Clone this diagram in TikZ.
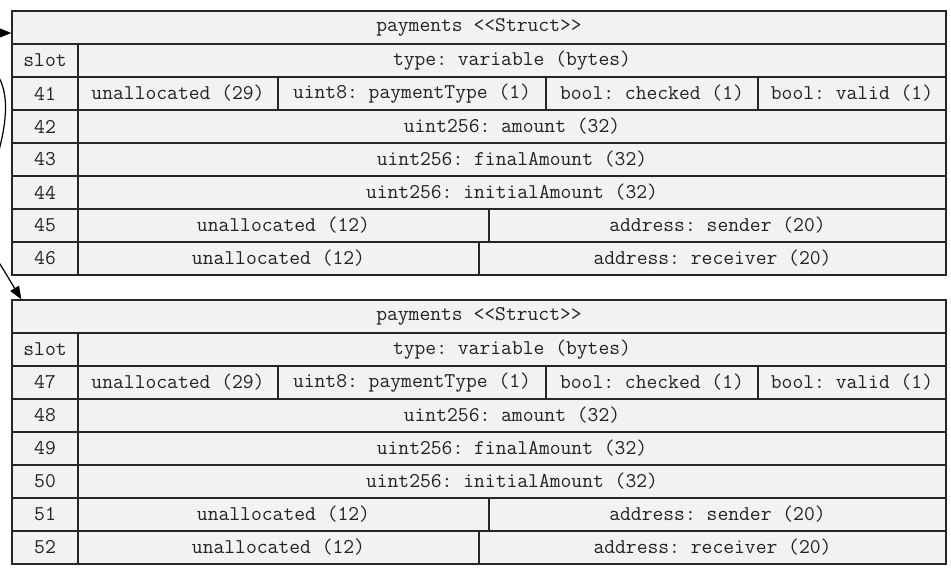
\documentclass[tikz,border=0pt]{standalone}
\usepackage{fontspec}
\usetikzlibrary{arrows.meta}
\definecolor{cellfill}{HTML}{F2F2F2}
\definecolor{cellline}{HTML}{262626}
\definecolor{celltext}{HTML}{222222}
\tikzset{
  cell/.style={draw=cellline, fill=cellfill, line width=1.2pt, inner sep=0pt,
    minimum height=33pt, text=celltext,
    font=\ttfamily\frenchspacing\fontsize{21pt}{22pt}\selectfont},
  edge/.style={line width=1.2pt, draw=black,
    -{Triangle[length=13pt,width=10pt]}},
  plain/.style={line width=1.2pt, draw=black}
}
\begin{document}
\frenchspacing
\begin{tikzpicture}[x=1pt,y=-1pt]
\useasboundingbox (0,0) rectangle (951,571);
\clip (0,0) rectangle (951,571);

% upper struct, slots 41-46
\node[cell, minimum width=934pt] (t1h) at (479,27.5) {payments <<Struct>>};
\node[cell, minimum width=66pt] (t1s) at (45,60.5) {slot};
\node[cell, minimum width=868pt] (t1t) at (512,60.5) {type: variable (bytes)};
\node[cell, minimum width=66pt] (t1s41) at (45,93.5) {41};
\node[cell, minimum width=200pt] (t1a41) at (178,93.5) {unallocated (29)};
\node[cell, minimum width=268pt] (t1b41) at (412,93.5) {uint8: paymentType (1)};
\node[cell, minimum width=212pt] (t1c41) at (652,93.5) {bool: checked (1)};
\node[cell, minimum width=188pt] (t1d41) at (852,93.5) {bool: valid (1)};
\node[cell, minimum width=66pt] (t1s42) at (45,126.5) {42};
\node[cell, minimum width=868pt] (t1a42) at (512,126.5) {uint256: amount (32)};
\node[cell, minimum width=66pt] (t1s43) at (45,159.5) {43};
\node[cell, minimum width=868pt] (t1a43) at (512,159.5) {uint256: finalAmount (32)};
\node[cell, minimum width=66pt] (t1s44) at (45,192.5) {44};
\node[cell, minimum width=868pt] (t1a44) at (512,192.5) {uint256: initialAmount (32)};
\node[cell, minimum width=66pt] (t1s45) at (45,225.5) {45};
\node[cell, minimum width=411pt] (t1a45) at (283.5,225.5) {unallocated (12)};
\node[cell, minimum width=457pt] (t1b45) at (717.5,225.5) {address: sender (20)};
\node[cell, minimum width=66pt] (t1s46) at (45,258.5) {46};
\node[cell, minimum width=401pt] (t1a46) at (278.5,258.5) {unallocated (12)};
\node[cell, minimum width=467pt] (t1b46) at (712.5,258.5) {address: receiver (20)};

% lower struct, slots 47-52
\node[cell, minimum width=934pt] (t2h) at (479,316.5) {payments <<Struct>>};
\node[cell, minimum width=66pt] (t2s) at (45,349.5) {slot};
\node[cell, minimum width=868pt] (t2t) at (512,349.5) {type: variable (bytes)};
\node[cell, minimum width=66pt] (t2s47) at (45,382.5) {47};
\node[cell, minimum width=200pt] (t2a47) at (178,382.5) {unallocated (29)};
\node[cell, minimum width=268pt] (t2b47) at (412,382.5) {uint8: paymentType (1)};
\node[cell, minimum width=212pt] (t2c47) at (652,382.5) {bool: checked (1)};
\node[cell, minimum width=188pt] (t2d47) at (852,382.5) {bool: valid (1)};
\node[cell, minimum width=66pt] (t2s48) at (45,415.5) {48};
\node[cell, minimum width=868pt] (t2a48) at (512,415.5) {uint256: amount (32)};
\node[cell, minimum width=66pt] (t2s49) at (45,448.5) {49};
\node[cell, minimum width=868pt] (t2a49) at (512,448.5) {uint256: finalAmount (32)};
\node[cell, minimum width=66pt] (t2s50) at (45,481.5) {50};
\node[cell, minimum width=868pt] (t2a50) at (512,481.5) {uint256: initialAmount (32)};
\node[cell, minimum width=66pt] (t2s51) at (45,514.5) {51};
\node[cell, minimum width=411pt] (t2a51) at (283.5,514.5) {unallocated (12)};
\node[cell, minimum width=457pt] (t2b51) at (717.5,514.5) {address: sender (20)};
\node[cell, minimum width=66pt] (t2s52) at (45,547.5) {52};
\node[cell, minimum width=401pt] (t2a52) at (278.5,547.5) {unallocated (12)};
\node[cell, minimum width=467pt] (t2b52) at (712.5,547.5) {address: receiver (20)};

% connectors entering from the left margin
\coordinate (in1) at (-4,33);
\draw[edge] (in1) -- (in1 -| t1h.west);

\coordinate (pass1) at (-2,76);
\coordinate (pass2) at (-2,154);
\draw[plain] (pass1) .. controls (8,92) and (8,118) .. (pass2);

\coordinate (in2) at (-4,258);
\draw[edge] (in2) .. controls (4,270) and (12,284) .. ([xshift=10pt]t2h.north west);
\end{tikzpicture}
\end{document}
